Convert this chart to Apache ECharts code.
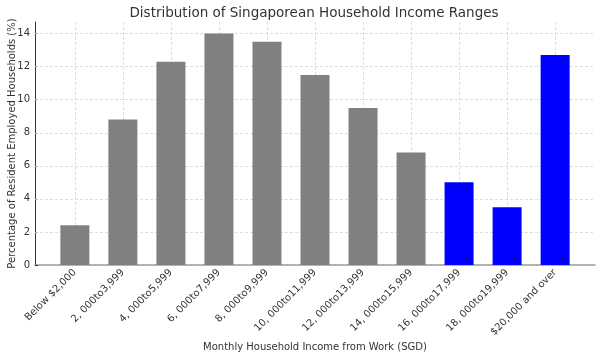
<!DOCTYPE html>
<html><head><meta charset="utf-8">
<script src="https://cdn.jsdelivr.net/npm/echarts@6/dist/echarts.min.js"></script>
<style>html,body{margin:0;padding:0;background:#fff}#c{width:600px;height:358px}</style>
</head><body><div id="c"></div>
<script>
const categories = ["Below $2,000","2, 000to3,999","4, 000to5,999","6, 000to7,999","8, 000to9,999","10, 000to11,999","12, 000to13,999","14, 000to15,999","16, 000to17,999","18, 000to19,999","$20,000 and over"];
const values = [2.4, 8.8, 12.3, 14.0, 13.5, 11.5, 9.5, 6.8, 5.0, 3.5, 12.7];
const highlighted = [false,false,false,false,false,false,false,false,true,true,true];
const yTicks = [0,2,4,6,8,10,12,14];

const idx = categories.map((c,i)=>i);
const chart = echarts.init(document.getElementById('c'), null, {renderer:'canvas'});
const font = 'DejaVu Sans';
chart.setOption({
  animation:false,
  title:{text:'Distribution of Singaporean Household Income Ranges',left:309,textAlign:'center',top:1,
    textStyle:{fontFamily:font,fontSize:13.5,fontWeight:'normal',color:'#333'}},
  grid:{left:35,right:5,top:22,bottom:93,outerBoundsMode:'none',containLabel:false},
  xAxis:{type:'value',min:-0.83,max:10.83,
    name:'Monthly Household Income from Work (SGD)',nameLocation:'middle',nameGap:77,nameMoveOverlap:false,
    nameTextStyle:{fontFamily:font,fontSize:10,color:'#333'},
    axisLine:{show:true,onZero:false,lineStyle:{color:'#999',width:1.5}},
    axisTick:{show:true,inside:true,length:4,customValues:idx,lineStyle:{color:'#333'}},
    axisLabel:{customValues:idx,rotate:45,fontFamily:font,fontSize:10,color:'#333',margin:6,
      formatter:v=>categories[Math.round(v)]},
    splitLine:{show:false}},
  yAxis:{type:'value',min:0,max:14.7,
    name:'Percentage of Resident Employed Households (%)',nameLocation:'middle',nameGap:18,nameMoveOverlap:false,
    nameTextStyle:{fontFamily:font,fontSize:10,color:'#333'},
    axisLine:{show:true,onZero:false,lineStyle:{color:'#333',width:1}},
    axisTick:{show:true,inside:true,length:3,customValues:yTicks,lineStyle:{color:'#333'}},
    axisLabel:{customValues:yTicks,fontFamily:font,fontSize:10,color:'#333',margin:5},
    splitLine:{show:false}},
  series:[{
    type:'line',data:[],z:1,silent:true,
    markLine:{silent:true,symbol:'none',label:{show:false},animation:false,
      lineStyle:{color:'#d6d6d6',type:[3,2],width:0.8},
      data:[...idx.map(i=>({xAxis:i})),...yTicks.filter(t=>t>0).map(t=>({yAxis:t}))]}
  },{
    type:'bar',barWidth:29,zlevel:1,
    data:values.map((v,i)=>({value:[i,v],itemStyle:{color:highlighted[i]?'#0000ff':'#808080'}}))
  }]
});
</script></body></html>
